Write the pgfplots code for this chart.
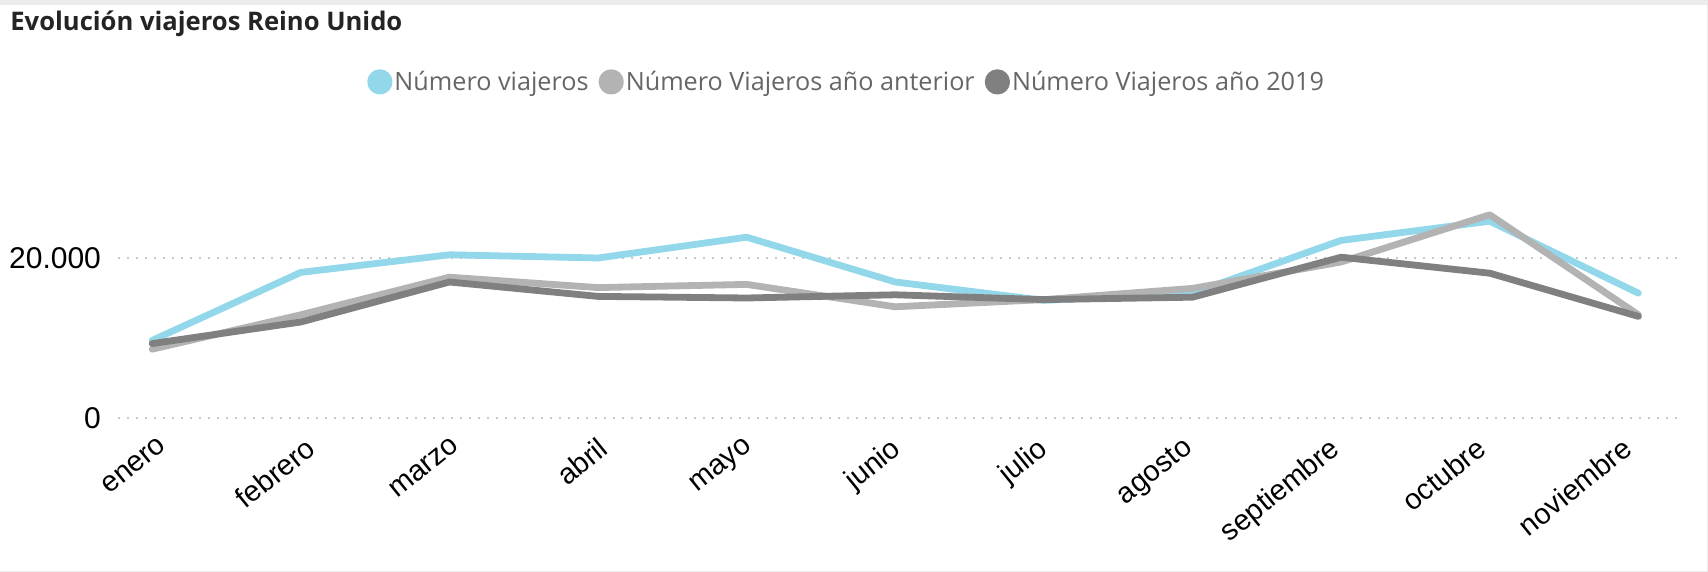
\documentclass[border=0pt]{standalone}
\usepackage{fontspec}
\usepackage{pgfplots}
\pgfplotsset{compat=1.18}
\setmainfont{Open Sans}
\newfontfamily\tickfont{Liberation Sans}

\definecolor{cBlue}{HTML}{93D8EA}
\definecolor{cLight}{HTML}{B3B3B3}
\definecolor{cDark}{HTML}{808080}
\definecolor{cGrid}{HTML}{C8C8C8}
\definecolor{cLegend}{HTML}{666666}
\definecolor{cTitle}{HTML}{252423}

\begin{document}
\begin{tikzpicture}
  % frame and page
  \fill[black!8] (0,0) rectangle (854pt,286pt);
  \fill[white] (0,0.6pt) rectangle (853.4pt,283.5pt);
  \node[anchor=west, font=\fontsize{12.8}{15}\selectfont\bfseries, text=cTitle, inner sep=0pt]
    at (5pt,274pt) {Evolución viajeros Reino Unido};

  \begin{axis}[
    at={(59pt,77pt)}, anchor=south west,
    scale only axis,
    width=779.5pt, height=144pt,
    xmin=-0.23, xmax=10.26,
    ymin=0, ymax=36000,
    axis line style={draw=none},
    clip=false,
    % label positions follow the reference, slightly tighter than the data
    xtick={0.029,1.014,1.998,2.983,3.967,4.952,5.937,6.921,7.906,8.890,9.875},
    xticklabels={enero,febrero,marzo,abril,mayo,junio,julio,agosto,septiembre,octubre,noviembre},
    ytick={0,20000},
    yticklabels={0,20.000},
    scaled y ticks=false,
    /pgf/number format/assume math mode=true,
    ymajorgrids=true,
    grid style={cGrid, line width=0.9pt, dash pattern=on 0.9pt off 3.6pt},
    tick style={draw=none},
    xticklabel style={font=\tickfont\fontsize{14.5}{16}\selectfont, rotate=39, anchor=north east, inner sep=1pt, xshift=-4pt, yshift=-6pt},
    yticklabel style={font=\tickfont\fontsize{15}{17}\selectfont, anchor=east, xshift=-5pt},
    legend style={at={(0.468,1.167)}, anchor=center, draw=none, fill=none,
      font=\fontsize{12.6}{15}\selectfont, text=cLegend,
      legend columns=-1, column sep=0pt,
      /tikz/every odd column/.append style={column sep=-1pt},
      /tikz/every even column/.append style={column sep=3pt}},
    legend image code/.code={\fill[#1] (0.55em,0) circle (4.6pt);},
    every axis plot/.append style={line width=3.4pt, line join=round, line cap=round},
  ]
    \addplot[cBlue] coordinates {
      (0,9700) (1,18200) (2,20400) (3,20000) (4,22600) (5,17000)
      (6,14700) (7,15600) (8,22200) (9,24600) (10,15600)
    };
    \addplot[cLight] coordinates {
      (0,8600) (1,12900) (2,17600) (3,16300) (4,16700) (5,13900)
      (6,14800) (7,16200) (8,19500) (9,25400) (10,12900)
    };
    \addplot[cDark] coordinates {
      (0,9300) (1,12000) (2,17000) (3,15200) (4,15000) (5,15400)
      (6,14800) (7,15100) (8,20100) (9,18100) (10,12700)
    };
    \legend{Número viajeros,Número Viajeros año anterior,Número Viajeros año 2019}
  \end{axis}
\end{tikzpicture}
\end{document}
